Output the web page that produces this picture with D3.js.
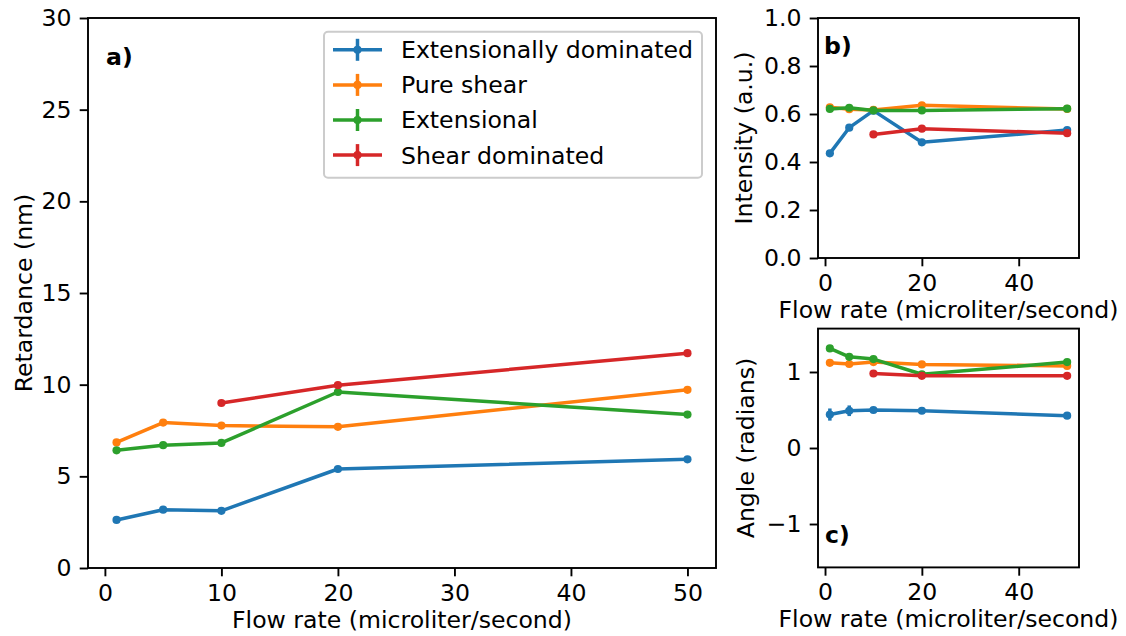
<!DOCTYPE html>
<html>
<head>
<meta charset="utf-8">
<script src="https://cdn.jsdelivr.net/npm/d3@7"></script>
<style>
body { margin: 0; background: #fff; }
text { font-family: "DejaVu Sans", sans-serif; }
</style>
</head>
<body>
<script>
// Data
const flowRates = [1, 5, 10, 20, 50]
const shearDomFlowRates = [10, 20, 50]
const seriesNames = ["Extensionally dominated", "Pure shear", "Extensional", "Shear dominated"]
const seriesColors = ["#1f77b4", "#ff7f0e", "#2ca02c", "#d62728"]

// a) retardance (nm)
const retExtDom = [2.62, 3.18, 3.12, 5.40, 5.93]
const retPureShear = [6.85, 7.93, 7.77, 7.70, 9.72]
const retExtensional = [6.42, 6.70, 6.82, 9.60, 8.37]
const retShearDom = [9.00, 9.97, 11.72]

// b) intensity (a.u.)
const intExtDom = [0.436, 0.543, 0.614, 0.482, 0.533]
const intPureShear = [0.628, 0.620, 0.617, 0.636, 0.621]
const intExtensional = [0.621, 0.626, 0.615, 0.615, 0.622]
const intShearDom = [0.515, 0.539, 0.520]

// c) angle (radians)
const angExtDom = [0.44, 0.49, 0.50, 0.49, 0.425]
const angExtDomErr = [0.08, 0.07, 0.02, 0.01, 0.01]
const angPureShear = [1.12, 1.105, 1.13, 1.10, 1.08]
const angExtensional = [1.31, 1.20, 1.17, 0.97, 1.13]
const angShearDom = [0.98, 0.95, 0.95]

// tick values
const ticksAx = [0, 10, 20, 30, 40, 50]
const ticksAy = [0, 5, 10, 15, 20, 25, 30]
const ticksSmallX = [0, 20, 40]
const ticksBy = [0, 0.2, 0.4, 0.6, 0.8, 1.0]
const ticksCy = [-1, 0, 1]

const FS = 23.6
const svg = d3.select("body").append("svg")
    .attr("width", 1126)
    .attr("height", 636)

function drawPanel(cfg) {
    const x = d3.scaleLinear().domain([-1.45, 52.45]).range([cfg.left, cfg.right])
    const y = d3.scaleLinear().domain(cfg.yDomain).range([cfg.bottom, cfg.top])

    const xAxis = svg.append("g")
        .attr("transform", `translate(0, ${cfg.bottom})`)
        .call(d3.axisBottom(x).tickValues(cfg.xTicks).tickSize(8.3).tickPadding(8).tickSizeOuter(0))
    const yAxis = svg.append("g")
        .attr("transform", `translate(${cfg.left}, 0)`)
        .call(d3.axisLeft(y).tickValues(cfg.yTicks).tickSize(8.3).tickPadding(8.3).tickSizeOuter(0)
            .tickFormat(cfg.yFormat || d3.format("d")))
    for (const ax of [xAxis, yAxis]) {
        ax.attr("font-size", FS).attr("font-family", "DejaVu Sans")
        ax.select(".domain").remove()
        ax.selectAll(".tick line").attr("stroke", "#000").attr("stroke-width", 1.9)
        ax.selectAll(".tick text").attr("fill", "#000")
    }

    // spines
    svg.append("rect")
        .attr("x", cfg.left).attr("y", cfg.top)
        .attr("width", cfg.right - cfg.left).attr("height", cfg.bottom - cfg.top)
        .attr("fill", "none").attr("stroke", "#000").attr("stroke-width", 1.9)

    // series
    cfg.series.forEach((s, i) => {
        const pts = s.xs.map((xv, j) => [xv, s.ys[j], s.err ? s.err[j] : 0])
        const line = d3.line().x(d => x(d[0])).y(d => y(d[1]))
        svg.append("path")
            .attr("d", line(pts))
            .attr("fill", "none")
            .attr("stroke", seriesColors[i])
            .attr("stroke-width", 3.5)
            .attr("stroke-linejoin", "round")
        svg.append("g").selectAll("line")
            .data(pts.filter(d => d[2] > 0))
            .enter().append("line")
            .attr("x1", d => x(d[0])).attr("x2", d => x(d[0]))
            .attr("y1", d => y(d[1] - d[2])).attr("y2", d => y(d[1] + d[2]))
            .attr("stroke", seriesColors[i])
            .attr("stroke-width", 3.5)
        svg.append("g").selectAll("circle")
            .data(pts)
            .enter().append("circle")
            .attr("cx", d => x(d[0])).attr("cy", d => y(d[1]))
            .attr("r", 4.1)
            .attr("fill", seriesColors[i])
    })

    // labels
    svg.append("text")
        .attr("x", (cfg.left + cfg.right) / 2)
        .attr("y", cfg.bottom + 60)
        .attr("text-anchor", "middle")
        .style("font-size", FS)
        .text("Flow rate (microliter/second)")
    svg.append("text")
        .attr("transform", `translate(${cfg.yLabelX}, ${(cfg.top + cfg.bottom) / 2}) rotate(-90)`)
        .attr("text-anchor", "middle")
        .style("font-size", FS)
        .text(cfg.yLabel)
    svg.append("text")
        .attr("x", cfg.tagX).attr("y", cfg.tagY)
        .style("font-size", FS)
        .style("font-weight", "bold")
        .text(cfg.tag)
}

drawPanel({
    left: 88, right: 716, top: 18, bottom: 568,
    yDomain: [0, 30], xTicks: ticksAx, yTicks: ticksAy,
    yLabel: "Retardance (nm)", yLabelX: 32,
    tag: "a)", tagX: 106, tagY: 65,
    series: [
        { xs: flowRates, ys: retExtDom },
        { xs: flowRates, ys: retPureShear },
        { xs: flowRates, ys: retExtensional },
        { xs: shearDomFlowRates, ys: retShearDom }
    ]
})

drawPanel({
    left: 818, right: 1079, top: 18, bottom: 258,
    yDomain: [0, 1], xTicks: ticksSmallX, yTicks: ticksBy, yFormat: d3.format(".1f"),
    yLabel: "Intensity (a.u.)", yLabelX: 752,
    tag: "b)", tagX: 824, tagY: 54,
    series: [
        { xs: flowRates, ys: intExtDom },
        { xs: flowRates, ys: intPureShear },
        { xs: flowRates, ys: intExtensional },
        { xs: shearDomFlowRates, ys: intShearDom }
    ]
})

drawPanel({
    left: 818, right: 1079, top: 328.6, bottom: 567.4,
    yDomain: [-Math.PI / 2, Math.PI / 2], xTicks: ticksSmallX, yTicks: ticksCy,
    yLabel: "Angle (radians)", yLabelX: 754,
    tag: "c)", tagX: 825, tagY: 543,
    series: [
        { xs: flowRates, ys: angExtDom, err: angExtDomErr },
        { xs: flowRates, ys: angPureShear },
        { xs: flowRates, ys: angExtensional },
        { xs: shearDomFlowRates, ys: angShearDom }
    ]
})

// Legend for panel a
const legend = svg.append("g")
legend.append("rect")
    .attr("x", 324).attr("y", 31.7)
    .attr("width", 378).attr("height", 146)
    .attr("rx", 4)
    .attr("fill", "#fff").attr("fill-opacity", 0.8)
    .attr("stroke", "#cccccc").attr("stroke-width", 2)
seriesNames.forEach((name, i) => {
    const cy = 49.8 + i * 35.1
    legend.append("line")
        .attr("x1", 333).attr("x2", 382).attr("y1", cy).attr("y2", cy)
        .attr("stroke", seriesColors[i]).attr("stroke-width", 3.5)
    legend.append("line")
        .attr("x1", 357.5).attr("x2", 357.5).attr("y1", cy - 11).attr("y2", cy + 11)
        .attr("stroke", seriesColors[i]).attr("stroke-width", 3.5)
    legend.append("circle")
        .attr("cx", 357.5).attr("cy", cy).attr("r", 4.1)
        .attr("fill", seriesColors[i])
    legend.append("text")
        .attr("x", 401).attr("y", cy + 8.4)
        .style("font-size", FS)
        .text(name)
})
</script>
</body>
</html>
